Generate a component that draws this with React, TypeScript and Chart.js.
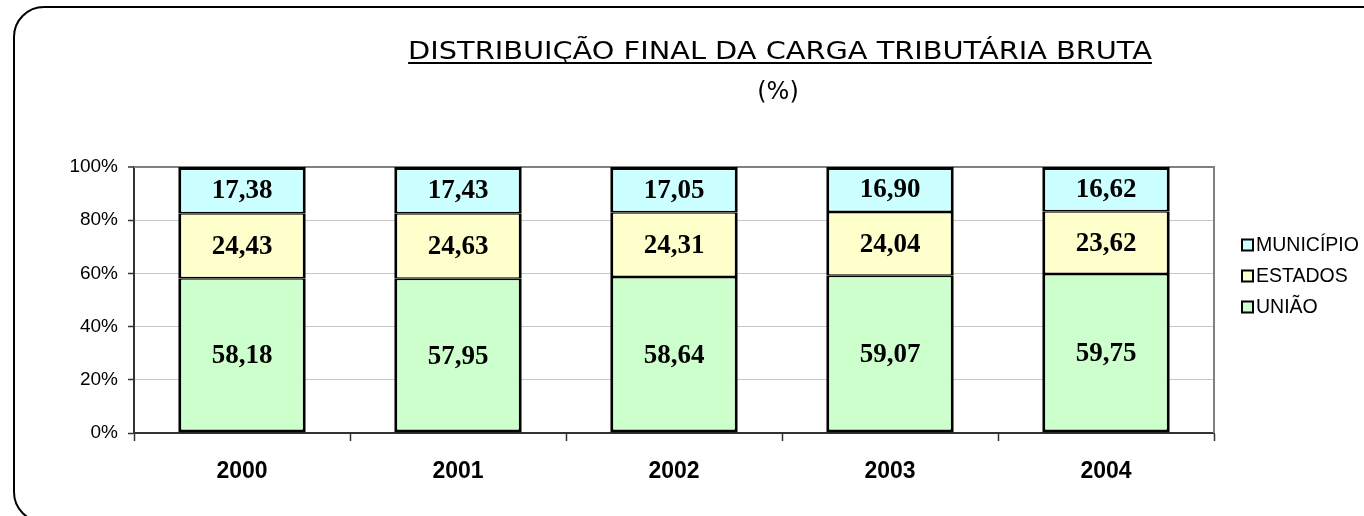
import React, { useEffect, useRef } from "react";
import { Chart, registerables } from "chart.js";

Chart.register(...registerables);

const YEARS = ["2000", "2001", "2002", "2003", "2004"];
const UNIAO = [58.18, 57.95, 58.64, 59.07, 59.75];
const ESTADOS = [24.43, 24.63, 24.31, 24.04, 23.62];
const MUNICIPIO = [17.38, 17.43, 17.05, 16.9, 16.62];
const Y_TICKS = [0, 20, 40, 60, 80, 100];
const SERIES_NAMES = ["UNIÃO", "ESTADOS", "MUNICÍPIO"];
const TITLE = "DISTRIBUIÇÃO FINAL DA CARGA TRIBUTÁRIA BRUTA";
const SUBTITLE = "(%)";

const COLORS = ["#CCFFCC", "#FFFFCC", "#CCFFFF"];

const W = 1364;
const H = 516;

const framePlugin = {
  id: "frame",
  beforeDraw(chart: any) {
    const ctx = chart.ctx;
    ctx.save();
    ctx.fillStyle = "#ffffff";
    ctx.fillRect(0, 0, W, H);
    ctx.strokeStyle = "#000000";
    ctx.lineWidth = 2;
    ctx.beginPath();
    (ctx as any).roundRect(14, 7, 1420, 515, 30);
    ctx.stroke();
    ctx.restore();
  },
};

const borderPlugin = {
  id: "plotBorder",
  beforeDatasetsDraw(chart: any) {
    const { ctx, chartArea } = chart;
    ctx.save();
    ctx.strokeStyle = "#808080";
    ctx.lineWidth = 2;
    ctx.beginPath();
    ctx.moveTo(chartArea.left, chartArea.top);
    ctx.lineTo(chartArea.right, chartArea.top);
    ctx.lineTo(chartArea.right, chartArea.bottom);
    ctx.stroke();
    ctx.restore();
  },
};

const labelsPlugin = {
  id: "barLabels",
  afterDatasetsDraw(chart: any) {
    const ctx = chart.ctx;
    ctx.save();
    ctx.font = "bold 27px 'Liberation Serif', 'Times New Roman', serif";
    ctx.fillStyle = "#000000";
    ctx.textAlign = "center";
    ctx.textBaseline = "middle";
    chart.data.datasets.forEach((ds: any, di: number) => {
      const meta = chart.getDatasetMeta(di);
      meta.data.forEach((bar: any, i: number) => {
        const v = ds.data[i] as number;
        const y = (bar.y + bar.base) / 2;
        ctx.fillText(v.toFixed(2).replace(".", ","), bar.x, y + 1);
      });
    });
    ctx.restore();
  },
};

const titlePlugin = {
  id: "titleUnderline",
  afterDraw(chart: any) {
    const ctx = chart.ctx;
    ctx.save();
    ctx.fillStyle = "#000000";
    ctx.strokeStyle = "#000000";
    ctx.font = "24px 'DejaVu Sans', Verdana, sans-serif";
    ctx.textAlign = "center";
    ctx.textBaseline = "alphabetic";
    const cx = 780;
    const sx = 1.2;
    const w = ctx.measureText(TITLE).width * sx;
    ctx.save();
    ctx.translate(cx, 0);
    ctx.scale(sx, 1);
    ctx.fillText(TITLE, 0, 59);
    ctx.restore();
    ctx.lineWidth = 2;
    ctx.beginPath();
    ctx.moveTo(cx - w / 2, 63);
    ctx.lineTo(cx + w / 2, 63);
    ctx.stroke();
    ctx.fillText(SUBTITLE, 778, 99);
    ctx.restore();
  },
};

const legendPlugin = {
  id: "customLegend",
  afterDraw(chart: any) {
    const ctx = chart.ctx;
    ctx.save();
    ctx.font = "19.5px 'Liberation Sans', Arial, sans-serif";
    ctx.textAlign = "left";
    ctx.textBaseline = "middle";
    const items = chart.data.datasets.map((d: any) => ({ label: d.label, color: d.backgroundColor })).reverse();
    items.forEach((it: any, i: number) => {
      const y = 245 + i * 31;
      ctx.fillStyle = it.color;
      ctx.fillRect(1242, y - 5.5, 11, 11);
      ctx.strokeStyle = "#000000";
      ctx.lineWidth = 2;
      ctx.strokeRect(1242, y - 5.5, 11, 11);
      ctx.fillStyle = "#000000";
      ctx.fillText(it.label, 1256, y + 1);
    });
    ctx.restore();
  },
};

export default function App() {
  const canvasRef = useRef<HTMLCanvasElement | null>(null);

  useEffect(() => {
    if (!canvasRef.current) return;
    const values = [UNIAO, ESTADOS, MUNICIPIO];
    const last = values.length - 1;
    const chart = new Chart(canvasRef.current, {
      type: "bar",
      data: {
        labels: YEARS,
        datasets: values.map((data, i) => ({
          label: SERIES_NAMES[i],
          data,
          backgroundColor: COLORS[i],
          borderColor: "#000000",
          borderWidth: {
            left: 3,
            right: 3,
            top: i === last ? 3 : 1.5,
            bottom: i === 0 ? 3 : 1.5,
          },
          borderSkipped: false,
          inflateAmount: 0,
          categoryPercentage: 1,
          barPercentage: 0.59,
        })),
      },
      options: {
        responsive: false,
        animation: false,
        devicePixelRatio: 1,
        layout: { padding: { top: 167, right: 150, left: 0, bottom: 0 } },
        plugins: {
          legend: { display: false },
          title: { display: false },
          tooltip: { enabled: false },
        },
        scales: {
          x: {
            stacked: true,
            offset: true,
            grid: {
              display: true,
              offset: true,
              drawOnChartArea: false,
              drawTicks: true,
              tickLength: 8,
              tickColor: "#333333",
              tickWidth: 1.5,
            },
            border: { display: true, color: "#333333", width: 2 },
            ticks: {
              color: "#000000",
              font: { family: "'Liberation Sans', Arial, sans-serif", size: 23, weight: "bold" },
              padding: 17,
            },
            afterFit(scale: any) {
              scale.height = H - 433;
            },
          },
          y: {
            stacked: true,
            min: 0,
            max: 100,
            afterBuildTicks(scale: any) {
              scale.ticks = Y_TICKS.map((v) => ({ value: v }));
            },
            grid: {
              color: (c: any) => (c.tick && c.tick.value === 100 ? "#808080" : "#c8c8c8"),
              lineWidth: (c: any) => (c.tick && c.tick.value === 100 ? 2 : 1),
              tickLength: 6,
              tickColor: "#333333",
              tickWidth: 1.5,
            },
            border: { display: true, color: "#333333", width: 2 },
            ticks: {
              color: "#000000",
              font: { family: "'Liberation Sans', Arial, sans-serif", size: 19 },
              padding: 10,
              callback: (v: any) => v + "%",
            },
            afterFit(scale: any) {
              scale.width = 134;
            },
          },
        },
      },
      plugins: [framePlugin, borderPlugin, labelsPlugin, titlePlugin, legendPlugin],
    } as any);
    return () => chart.destroy();
  }, []);

  return (
    <div style={{ position: "absolute", left: 0, top: 0, width: W, height: H, overflow: "hidden", background: "#fff" }}>
      <canvas ref={canvasRef} width={W} height={H} style={{ display: "block", width: W, height: H }} />
    </div>
  );
}
